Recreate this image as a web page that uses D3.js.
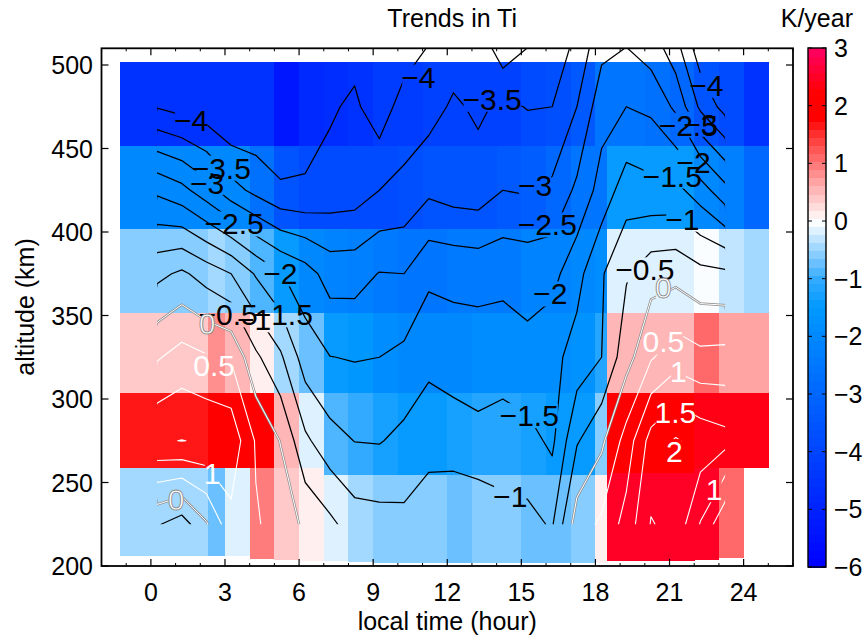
<!DOCTYPE html>
<html><head><meta charset="utf-8">
<script src="https://cdn.jsdelivr.net/npm/d3@7/dist/d3.min.js"></script>
<style>
body{margin:0;background:#fff;}
svg text{font-family:"Liberation Sans",Arial,Helvetica,sans-serif;}
</style></head><body>
<svg id="chart" width="865" height="643"></svg>
<script>
// ---------------- data ----------------
// contour grid: local-time columns and altitude rows
const gridHours = d3.range(24).map(i => 0.25 + i);
const gridAlts = [225, 275, 325, 375, 425, 475, 525];
// one array per hour column, values at gridAlts (K/year)
const gridValues = [
  [-0.45, 1.45, 0.45, -0.63, -2.10, -4.03, -4.3],
  [-0.75, 1.51, 0.70, -0.41, -2.35, -4.18, -4.4],
  [-0.05, 1.45, 0.55, -0.71, -2.78, -4.33, -4.5],
  [ 0.85, 1.35, 0.45, -1.00, -3.30, -4.60, -4.7],
  [ 0.55, 0.45, -0.40, -1.55, -3.64, -4.50, -4.7],
  [ 0.30, -0.02, -0.92, -1.97, -3.94, -4.40, -4.6],
  [-0.10, -0.90, -1.75, -2.28, -3.95, -4.20, -4.5],
  [-0.38, -1.32, -1.99, -2.71, -3.80, -4.07, -4.3],
  [-0.76, -1.51, -2.03, -2.70, -3.75, -3.90, -4.3],
  [-0.81, -1.53, -2.00, -2.48, -3.50, -4.31, -4.4],
  [-0.87, -1.37, -1.88, -2.50, -3.39, -3.75, -4.5],
  [-0.72, -1.17, -1.64, -2.10, -3.10, -3.71, -4.1],
  [-0.60, -1.23, -1.75, -2.13, -3.22, -3.42, -3.9],
  [-0.57, -1.37, -1.74, -2.17, -3.26, -3.59, -4.0],
  [-0.83, -1.25, -1.75, -2.12, -3.00, -3.40, -4.7],
  [-0.86, -1.33, -1.87, -2.17, -3.05, -3.52, -4.2],
  [-1.05, -1.60, -1.65, -2.16, -2.90, -3.50, -4.0],
  [ 0.26, -0.55, -1.30, -1.67, -2.40, -3.00, -3.5],
  [ 0.59, -0.10, -1.00, -1.05, -1.80, -2.20, -2.8],
  [ 1.19, 0.70, -0.20, -0.55, -1.25, -2.00, -2.7],
  [ 2.03, 1.70, 0.45, -0.20, -1.35, -2.10, -3.0],
  [ 1.85, 2.05, 0.78, -0.15, -1.35, -2.60, -3.6],
  [ 0.97, 1.82, 0.63, -0.35, -1.76, -3.60, -4.6],
  [ 0.07, 1.67, 0.66, -0.40, -2.34, -4.19, -4.6]
];
const contourLevels = [-4, -3.5, -3, -2.5, -2, -1.5, -1, -0.5, 0, 0.5, 1, 1.5, 2];

// heat map cells
const heatHourEdges = [-1.24, 2.33, 3, 4, 5, 6, 7, 8, 9, 10, 11, 12, 13, 14, 15, 16, 17, 18, 18.45, 19, 20, 21, 22, 23, 24, 25];
const heatAltEdges = [206, 257, 304, 352, 402, 452, 501.5];      // shared row edges
const heatBottomAlt = [206, 206, 206, 204.5, 204, 203.5, 203, 202.5, 202, 202, 202, 202, 202, 202, 202, 202, 202, 202, 203, 203, 203, 203, 204, 205, 205];
const heatSplitAlt  = [259, 259, 259, 259, 259, 259, 255, 255, 255, 255, 255, 255, 255, 255, 255, 255, 255, 255, 256, 256, 256, 256, 259, 259, 259];
// one array per column, bottom row first
const heatValues = [
  [-0.45, 1.6, 0.35, -0.55, -2.0, -4.5],
  [-0.70, 2.0, 0.75, -0.42, -2.0, -4.5],
  [-0.10, 2.0, 0.60, -0.65, -2.0, -4.5],
  [ 0.95, 1.8, 0.10, -0.85, -2.7, -4.5],
  [ 0.35, 0.55, -0.42, -1.45, -3.55, -5.3],
  [ 0.12, -0.10, -0.70, -2.0, -3.8, -4.8],
  [-0.10, -0.85, -1.40, -2.2, -3.8, -4.65],
  [-0.42, -1.00, -1.60, -2.3, -3.8, -4.5],
  [-0.65, -1.30, -1.90, -2.4, -3.8, -4.3],
  [-0.65, -1.40, -2.00, -2.5, -3.7, -4.2],
  [-0.60, -1.50, -2.00, -2.5, -3.6, -4.1],
  [-0.70, -1.30, -1.95, -2.45, -3.5, -4.1],
  [-0.55, -1.20, -1.80, -2.4, -3.5, -4.1],
  [-0.55, -1.20, -1.80, -2.35, -3.4, -4.05],
  [-0.70, -1.35, -1.80, -2.2, -3.2, -3.8],
  [-0.70, -1.40, -1.80, -2.2, -3.0, -3.7],
  [-0.65, -1.40, -1.70, -2.0, -2.6, -3.4],
  [ 0.10, -0.60, -1.20, -1.8, -2.5, -2.5],
  [ 2.50, 2.00, 0.55, -0.2, -1.5, -2.5],
  [ 2.50, 2.00, 0.55, -0.2, -1.5, -2.5],
  [ 2.50, 2.00, 0.55, -0.2, -1.5, -2.7],
  [ 2.50, 2.00, 0.55, -0.2, -1.5, -3.0],
  [ 2.50, 2.35, 1.15, -0.08, -2.0, -3.55],
  [ 1.15, 2.35, 0.70, -0.35, -2.3, -3.8],
  [ NaN, 2.35, 0.70, -0.45, -3.0, -4.5]
];

// colour map of the colour bar
const cmapStops  = [-6, -4.5, -3, -2, -1.5, -1, -0.5, 0, 0.5, 1, 1.5, 1.8, 2.2, 3];
const cmapColors = ["#0000ff","#0033ff","#0066ff","#0088ff","#0099ff","#33aaff","#99d4ff","#ffffff","#ffbbbb","#ff7777","#ff3333","#ff0000","#ff0000","#ff0066"];
const cbarTicks = [3, 2, 1, 0, -1, -2, -3, -4, -5, -6];

// axis ticks
const xTicks = [0, 3, 6, 9, 12, 15, 18, 21, 24];
const yTicks = [200, 250, 300, 350, 400, 450, 500];

// contour labels (text, level, hour, altitude)
const labelText = ["−4","−3.5","−3","−2.5","−2","−0.5","−1","−1.5","−4","−3.5","−3","−2.5","−2","−1.5","−1",
                   "−4","−2.5","−3","−2","−1.5","−1","−0.5",
                   "0","0.5","1","0","0","0.5","1","1.5","2","1"];
const labelLevel = [-4,-3.5,-3,-2.5,-2,-0.5,-1,-1.5,-4,-3.5,-3,-2.5,-2,-1.5,-1,
                    -4,-2.5,-3,-2,-1.5,-1,-0.5,
                    0,0.5,1,0,0,0.5,1,1.5,2,1];
const labelHour = [1.63,2.85,2.28,3.37,5.24,3.13,4.18,5.36,10.83,13.82,15.56,16.05,16.17,15.32,14.55,
                   22.49,21.76,22.25,21.97,21.11,21.52,20.0,
                   2.28,2.56,2.48,1.02,20.75,20.75,21.36,21.24,21.2,22.81];
const labelAlt = [467.1,438.4,429.5,405.0,375.1,350.6,347.6,350.6,492.8,479.7,428.3,404.4,363.1,290.2,241.8,
                  488.0,464.1,464.7,442.0,433.7,407.9,377.5,
                  345.2,320.1,255.5,240.0,366.7,334.4,316.5,292.0,268.7,245.9];

// ---------------- drawing ----------------
const svg = d3.select("#chart");
const x = d3.scaleLinear().domain([-2, 26]).range([101.5, 793]);
const y = d3.scaleLinear().domain([200, 510]).range([566, 48.3]);

const cmapLin = d3.scaleLinear().domain(cmapStops).range(cmapColors).clamp(true);
const nLevels = 64, cmin = -6, cmax = 3;
function colorOf(v) {
  let k = Math.floor((v - cmin) / (cmax - cmin) * nLevels);
  k = Math.max(0, Math.min(nLevels - 1, k));
  return cmapLin(cmin + (k + 0.5) * (cmax - cmin) / nLevels);
}

// heat map
const heat = svg.append("g").attr("shape-rendering", "crispEdges");
heatValues.forEach((col, i) => {
  const edges = heatAltEdges.slice();
  edges[0] = heatBottomAlt[i];
  edges[1] = heatSplitAlt[i];
  col.forEach((v, j) => {
    if (!isFinite(v)) return;
    heat.append("rect")
      .attr("x", x(heatHourEdges[i]))
      .attr("width", x(heatHourEdges[i + 1]) - x(heatHourEdges[i]) + 0.5)
      .attr("y", y(edges[j + 1]))
      .attr("height", y(edges[j]) - y(edges[j + 1]) + 0.5)
      .attr("fill", colorOf(v));
  });
});

// contours
const nx = gridHours.length, ny = gridAlts.length;
const flat = [];
for (let j = 0; j < ny; j++) for (let i = 0; i < nx; i++) flat.push(gridValues[i][j]);
const contours = d3.contours().size([nx, ny]).thresholds(contourLevels)(flat);
const dh = gridHours[1] - gridHours[0], da = gridAlts[1] - gridAlts[0];
const proj = d3.geoTransform({
  point: function (px, py) {
    const hour = gridHours[0] + (px - 0.5) * dh;
    const alt = gridAlts[0] + (py - 0.5) * da;
    this.stream.point(x(hour), y(alt));
  }
});
const path = d3.geoPath(proj);

const defs = svg.append("defs");
const topAlt = Math.min(d3.max(gridAlts), y.domain()[1]);
defs.append("clipPath").attr("id", "cclip").append("rect")
  .attr("x", x(gridHours[0])).attr("width", x(gridHours[nx - 1]) - x(gridHours[0]))
  .attr("y", y(topAlt)).attr("height", y(gridAlts[0]) - y(topAlt));

// contour labels
const FS = 30;
const labelG = svg.append("g");
const labelNodes = labelText.map((t, k) => {
  const white = labelLevel[k] >= 0;
  const el = labelG.append("text")
    .attr("x", x(labelHour[k])).attr("y", y(labelAlt[k]) + FS * 0.36)
    .attr("text-anchor", "middle").attr("font-size", FS)
    .attr("fill", white ? "#fff" : "#000")
    .text(t);
  if (labelLevel[k] === 0) el.attr("stroke", "#8a8a8a").attr("stroke-width", 0.9);
  return el;
});

// masks per level: each label breaks its own line
contourLevels.forEach((lv, li) => {
  const m = defs.append("mask").attr("id", "mask" + li).attr("maskUnits", "userSpaceOnUse")
    .attr("x", 0).attr("y", 0).attr("width", 865).attr("height", 643);
  m.append("rect").attr("x", 0).attr("y", 0).attr("width", 865).attr("height", 643).attr("fill", "#fff");
  labelNodes.forEach((el, k) => {
    if (labelLevel[k] !== lv) return;
    const b = el.node().getBBox();
    m.append("rect").attr("x", b.x + 1).attr("y", b.y + 4).attr("width", b.width - 2).attr("height", b.height - 8).attr("fill", "#000");
  });
});

const cg = svg.insert("g", () => labelG.node()).attr("clip-path", "url(#cclip)");
contours.forEach((c, li) => {
  const lv = contourLevels[li];
  const g = cg.append("g").attr("mask", "url(#mask" + li + ")");
  if (lv === 0) {
    g.append("path").attr("d", path(c)).attr("fill", "none").attr("stroke", "#8c8c8c").attr("stroke-width", 2.4);
    g.append("path").attr("d", path(c)).attr("fill", "none").attr("stroke", "#fff").attr("stroke-width", 1.0);
  } else {
    g.append("path").attr("d", path(c)).attr("fill", "none")
      .attr("stroke", lv < 0 ? "#000" : "#fff").attr("stroke-width", lv < 0 ? 1.25 : 1.1)
      .attr("stroke-linejoin", "round");
  }
});

// axes frame and ticks
const ax = svg.append("g").attr("stroke", "#000").attr("fill", "none");
ax.append("rect").attr("x", x(-2)).attr("y", y(510)).attr("width", x(26) - x(-2)).attr("height", y(200) - y(510)).attr("stroke-width", 1.8);
xTicks.forEach(t => {
  ax.append("line").attr("x1", x(t)).attr("x2", x(t)).attr("y1", y(200)).attr("y2", y(200) - 7).attr("stroke-width", 1.2);
  ax.append("line").attr("x1", x(t)).attr("x2", x(t)).attr("y1", y(510)).attr("y2", y(510) + 7).attr("stroke-width", 1.2);
});
d3.range(-2, 26.01, 1).forEach(t => {
  if (xTicks.includes(t)) return;
  ax.append("line").attr("x1", x(t)).attr("x2", x(t)).attr("y1", y(200)).attr("y2", y(200) - 3).attr("stroke-width", 1);
  ax.append("line").attr("x1", x(t)).attr("x2", x(t)).attr("y1", y(510)).attr("y2", y(510) + 3).attr("stroke-width", 1);
});
yTicks.forEach(t => {
  ax.append("line").attr("x1", x(-2)).attr("x2", x(-2) + 7).attr("y1", y(t)).attr("y2", y(t)).attr("stroke-width", 1.2);
  ax.append("line").attr("x1", x(26)).attr("x2", x(26) - 7).attr("y1", y(t)).attr("y2", y(t)).attr("stroke-width", 1.2);
});

const TF = 25;
const tx = svg.append("g").attr("font-size", TF).attr("fill", "#000");
xTicks.forEach(t => tx.append("text").attr("x", x(t)).attr("y", 601).attr("text-anchor", "middle").text(t));
yTicks.forEach(t => tx.append("text").attr("x", 93).attr("y", y(t) + TF * 0.36).attr("text-anchor", "end").text(t));
tx.append("text").attr("x", x(12)).attr("y", 630).attr("text-anchor", "middle").text("local time (hour)");
tx.append("text").attr("transform", `translate(34,307) rotate(-90)`).attr("text-anchor", "middle").text("altitude (km)");
tx.append("text").attr("x", x(12.2)).attr("y", 27).attr("text-anchor", "middle").text("Trends in Ti");

// colour bar
const cb = d3.scaleLinear().domain([cmin, cmax]).range([567, 48]);
const cbx = 808, cbw = 18;
const cbg = svg.append("g").attr("shape-rendering", "crispEdges");
d3.range(nLevels).forEach(k => {
  const v0 = cmin + k * (cmax - cmin) / nLevels, v1 = cmin + (k + 1) * (cmax - cmin) / nLevels;
  cbg.append("rect").attr("x", cbx).attr("width", cbw).attr("y", cb(v1)).attr("height", cb(v0) - cb(v1) + 0.6)
    .attr("fill", colorOf((v0 + v1) / 2));
});
svg.append("rect").attr("x", cbx).attr("y", cb(cmax)).attr("width", cbw).attr("height", cb(cmin) - cb(cmax))
  .attr("fill", "none").attr("stroke", "#000").attr("stroke-width", 1.4);
cbarTicks.forEach(t => {
  svg.append("line").attr("x1", cbx).attr("x2", cbx + 4).attr("y1", cb(t)).attr("y2", cb(t)).attr("stroke", "#000");
  svg.append("line").attr("x1", cbx + cbw).attr("x2", cbx + cbw - 4).attr("y1", cb(t)).attr("y2", cb(t)).attr("stroke", "#000");
  tx.append("text").attr("x", 834).attr("y", cb(t) + TF * 0.36).text(t < 0 ? "−" + Math.abs(t) : t);
});
tx.append("text").attr("x", 853).attr("y", 27).attr("text-anchor", "end").text("K/year");
</script>
</body></html>
